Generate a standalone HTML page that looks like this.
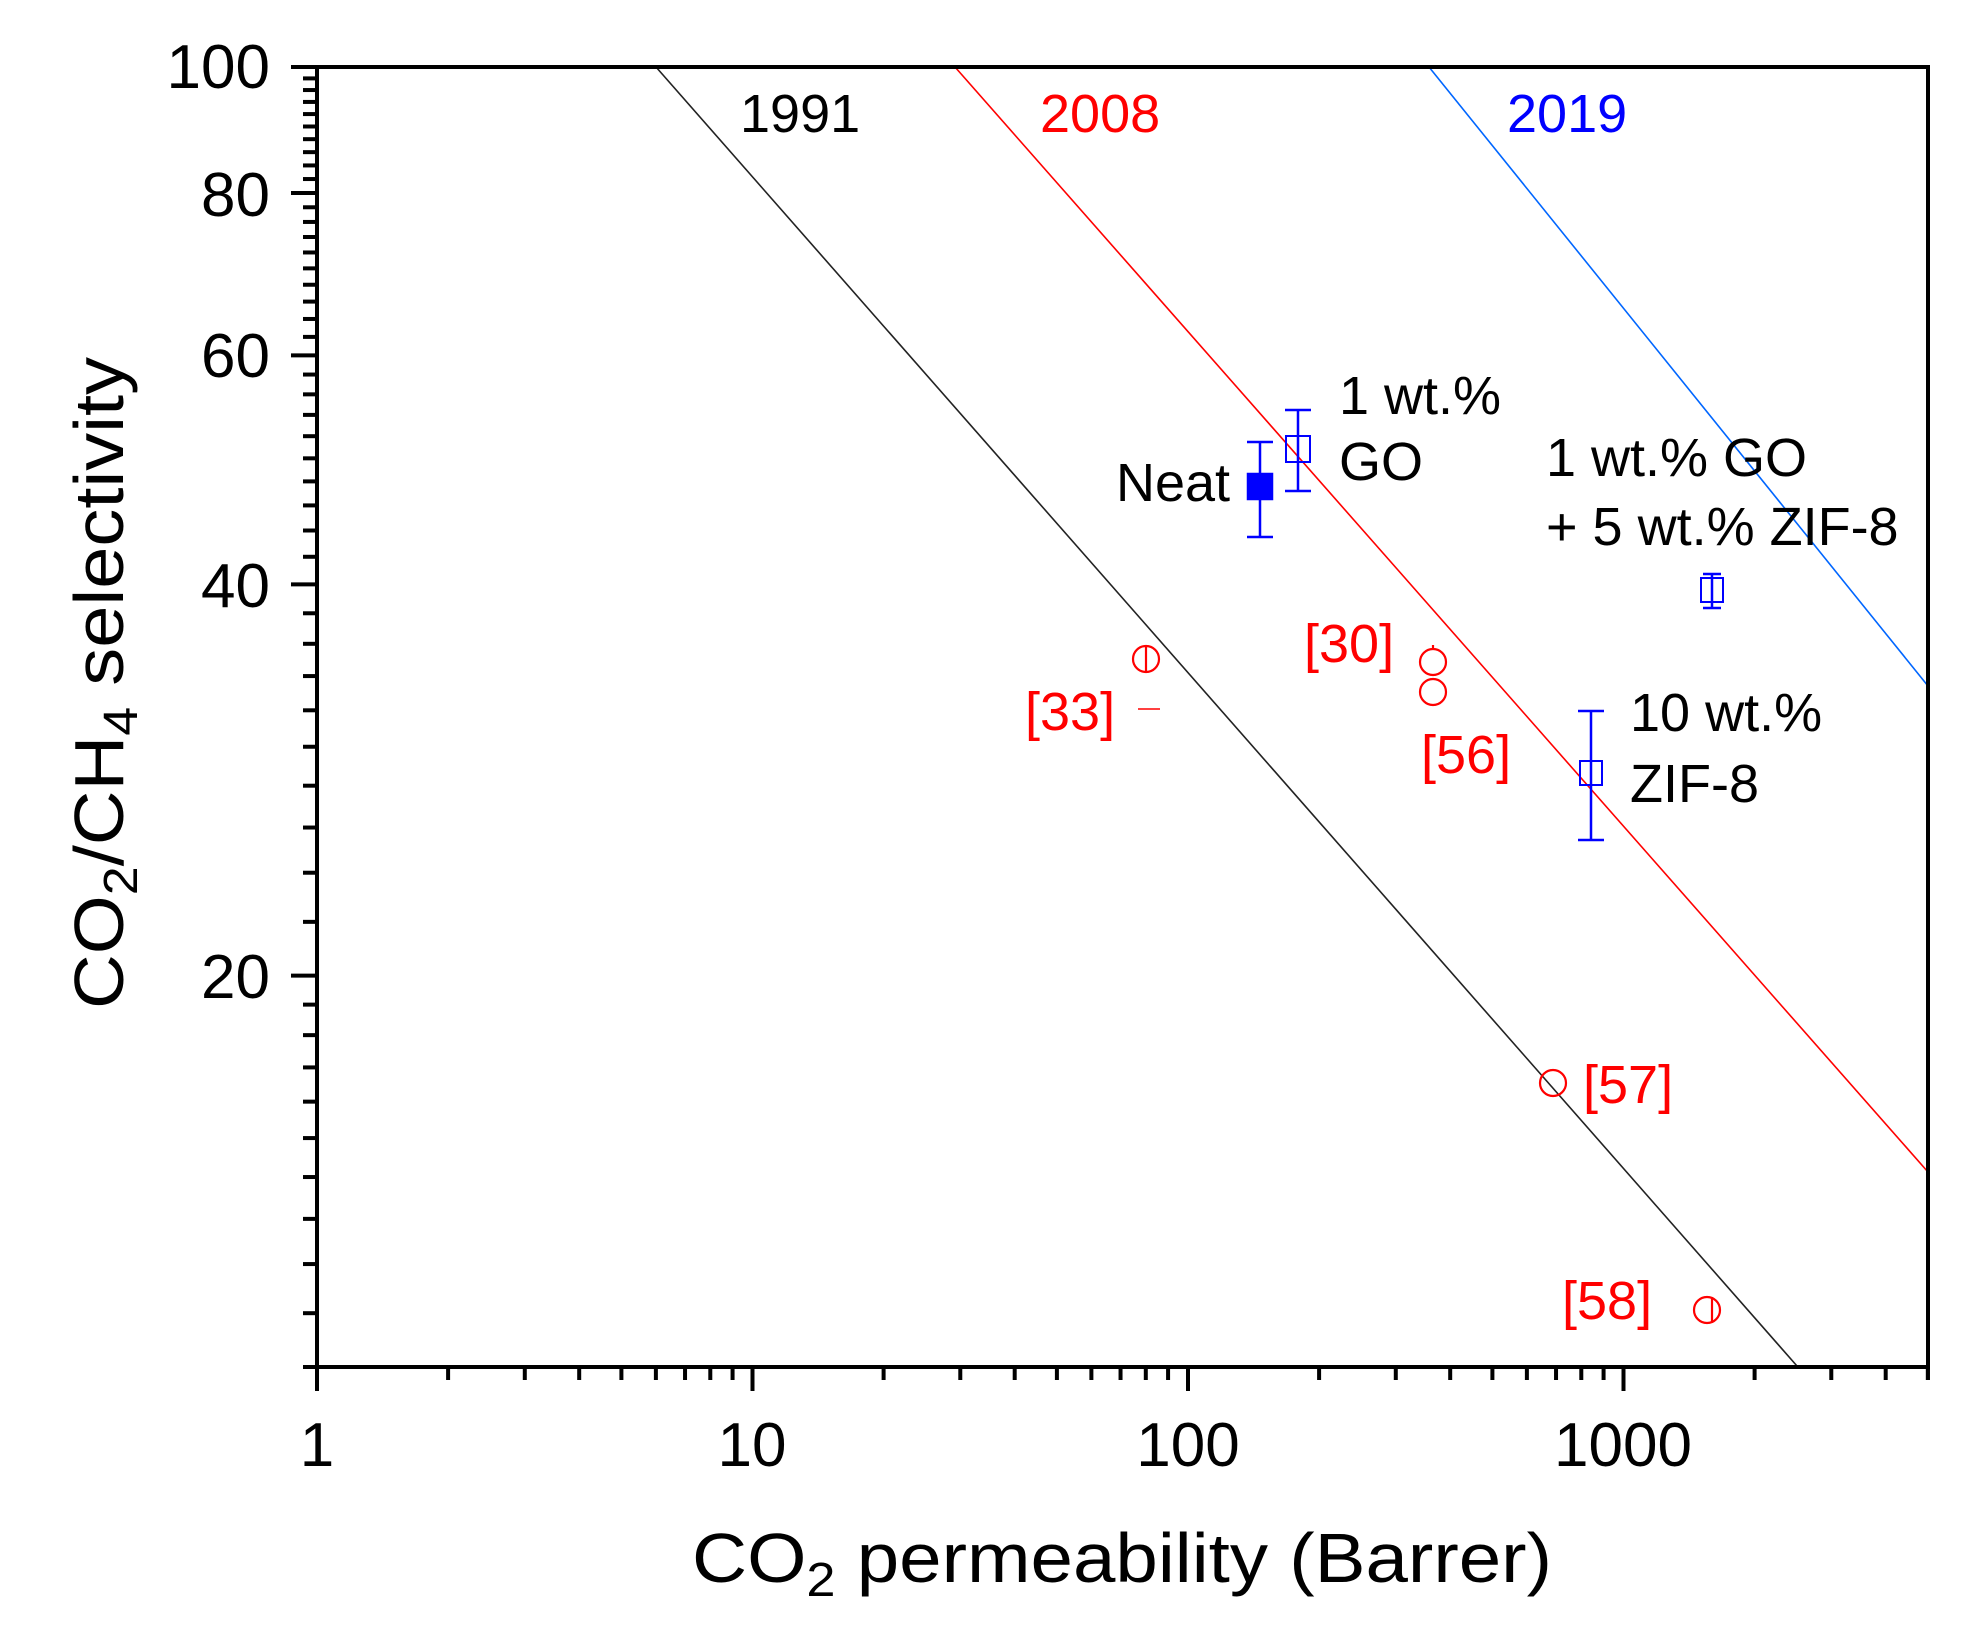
<!DOCTYPE html>
<html><head><meta charset="utf-8"><style>
html,body{margin:0;padding:0;background:#fff;}
svg{display:block;}
text{font-family:"Liberation Sans",Arial,sans-serif;}
</style></head><body>
<svg id="s" width="1965" height="1650" viewBox="0 0 1965 1650" xmlns="http://www.w3.org/2000/svg">
<rect width="1965" height="1650" fill="#fff"/>
<g id="ticks" stroke="#000" stroke-width="4"></g>
<!-- bound lines -->
<line x1="656" y1="67" x2="1797" y2="1366" stroke="#222" stroke-width="1.6"/>
<line x1="955" y1="67" x2="1928" y2="1172" stroke="#f00" stroke-width="1.6"/>
<line x1="1429" y1="67" x2="1928" y2="686" stroke="#06f" stroke-width="1.6"/>
<!-- frame -->
<rect x="317" y="67" width="1611" height="1300" fill="none" stroke="#000" stroke-width="4"/>
<!-- blue data -->
<g stroke="#00f" stroke-width="2.5" fill="none">
<line x1="1260" y1="442" x2="1260" y2="537"/><line x1="1247" y1="442" x2="1273" y2="442"/><line x1="1247" y1="537" x2="1273" y2="537"/>
<rect x="1248" y="474" width="24" height="25" fill="#00f"/>
<line x1="1298" y1="410" x2="1298" y2="491"/><line x1="1285" y1="410" x2="1311" y2="410"/><line x1="1285" y1="491" x2="1311" y2="491"/>
<rect x="1286" y="436" width="24" height="26" stroke-width="2"/>
<line x1="1712" y1="574" x2="1712" y2="608"/><line x1="1703" y1="574" x2="1721" y2="574"/><line x1="1703" y1="608" x2="1721" y2="608"/>
<rect x="1701" y="578" width="22" height="24" stroke-width="2"/>
<line x1="1591" y1="711" x2="1591" y2="840"/><line x1="1578" y1="711" x2="1604" y2="711"/><line x1="1578" y1="840" x2="1604" y2="840"/>
<rect x="1580" y="761" width="22" height="24" stroke-width="2"/>
</g>
<!-- red data -->
<g stroke="#f00" stroke-width="2.2" fill="none">
<circle cx="1146" cy="659" r="13"/><line x1="1146" y1="646" x2="1146" y2="672"/>
<line x1="1138" y1="709" x2="1160" y2="709" stroke-width="1.5"/>
<circle cx="1433" cy="662" r="13"/><line x1="1433" y1="645" x2="1433" y2="649"/>
<circle cx="1433" cy="692" r="13"/>
<circle cx="1553" cy="1083" r="13"/>
<circle cx="1707" cy="1310" r="13"/><line x1="1712" y1="1297" x2="1712" y2="1323"/>
</g>
<!-- tick labels -->
<g font-size="62" fill="#000" text-anchor="end">
<text x="270" y="88">100</text>
<text x="270" y="216">80</text>
<text x="270" y="377">60</text>
<text x="270" y="607">40</text>
<text x="270" y="998">20</text>
</g>
<g font-size="62" fill="#000" text-anchor="middle">
<text x="317" y="1466">1</text>
<text x="752" y="1466">10</text>
<text x="1188" y="1466">100</text>
<text x="1623" y="1466">1000</text>
</g>
<!-- axis titles -->
<text x="1122" y="1582" font-size="70" text-anchor="middle" textLength="860" lengthAdjust="spacingAndGlyphs">CO<tspan font-size="48" dy="14">2</tspan><tspan dy="-14"> permeability (Barrer)</tspan></text>
<text transform="translate(123,683) rotate(-90)" font-size="70" text-anchor="middle" textLength="652" lengthAdjust="spacingAndGlyphs">CO<tspan font-size="48" dy="14">2</tspan><tspan dy="-14">/CH</tspan><tspan font-size="48" dy="14">4</tspan><tspan dy="-14"> selectivity</tspan></text>
<!-- annotations -->
<g font-size="54">
<text x="740" y="132" fill="#000">1991</text>
<text x="1040" y="132" fill="#f00">2008</text>
<text x="1507" y="132" fill="#00f">2019</text>
<text x="1116" y="501">Neat</text>
<text x="1339" y="414">1 wt.%</text>
<text x="1339" y="480">GO</text>
<text x="1546" y="476">1 wt.% GO</text>
<text x="1546" y="545">+ 5 wt.% ZIF-8</text>
<text x="1630" y="731">10 wt.%</text>
<text x="1630" y="802">ZIF-8</text>
<g fill="#f00">
<text x="1304" y="662">[30]</text>
<text x="1025" y="730">[33]</text>
<text x="1421" y="773">[56]</text>
<text x="1583" y="1103">[57]</text>
<text x="1562" y="1319">[58]</text>
</g>
</g>
</svg>
<script>
(function(){
var g=document.getElementById('ticks'),ns='http://www.w3.org/2000/svg';
function L(x1,y1,x2,y2){var l=document.createElementNS(ns,'line');l.setAttribute('x1',x1);l.setAttribute('y1',y1);l.setAttribute('x2',x2);l.setAttribute('y2',y2);g.appendChild(l);}
function X(v){return 317+Math.log10(v)*435.5;}
function Y(v){return 67+(2-Math.log10(v))*1300;}
// y ticks
for(var v=10;v<=100;v++){
 if(v<20||v%2==0){
  var maj=(v==20||v==40||v==60||v==80||v==100);
  var y=Y(v);L(317,y,maj?291:303,y);
 }
}
// x ticks
var dec=[1,10,100,1000];
for(var d=0;d<4;d++){for(var k=1;k<10;k++){var v=dec[d]*k;if(v>5000)break;var x=X(v);L(x,1367,x,k==1?1391:1380);}}
L(X(5000),1367,X(5000),1380);
})();
</script>
</body></html>
